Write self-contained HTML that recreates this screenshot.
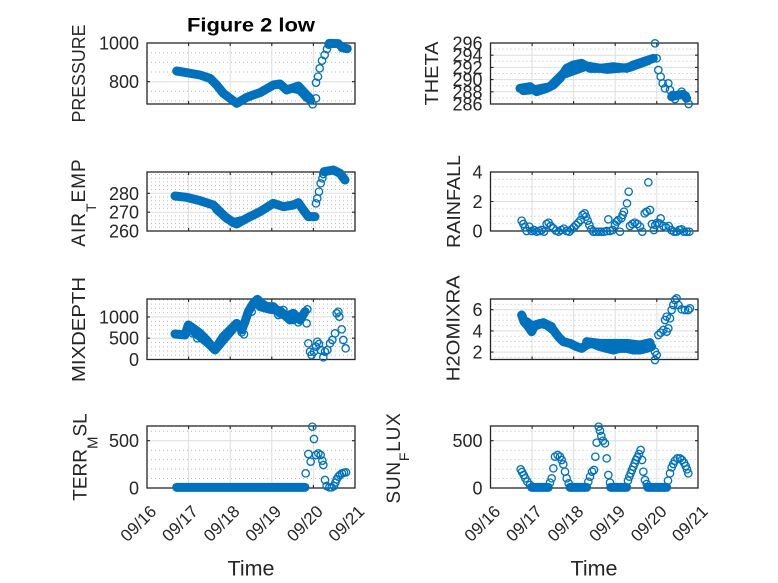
<!DOCTYPE html>
<html><head><meta charset="utf-8"><style>
html,body{margin:0;padding:0;background:#fff}
svg{display:block}
text{font-family:"Liberation Sans",Arial,sans-serif;fill:#262626}
.t{font-size:18px}
.xt{font-size:17px}
.yl{font-size:18px}
.mj{stroke:#dedede;stroke-width:1;fill:none}
.mn{stroke:#bcbcbc;stroke-width:1;stroke-dasharray:1 3;fill:none}
.bx{fill:none;stroke:#262626;stroke-width:1.3}
.tk{stroke:#262626;stroke-width:1.1;fill:none}
.d circle{fill:none;stroke:#0072BD;stroke-width:4}
.d polyline{fill:none;stroke:#0072BD;stroke-width:27;stroke-linecap:round;stroke-linejoin:round}
</style></head><body>
<svg xmlns="http://www.w3.org/2000/svg" width="778" height="583" viewBox="0 0 778 583">
<rect width="778" height="583" fill="#fff"/>

<!-- ===== GRIDS ===== -->
<path class="mn" d="M147 52.7H355M147 62.4H355M147 72H355M147 91.4H355M147 101H355"/>
<path class="mj" d="M147 81.7H355M188.6 43V104M230.2 43V104M271.8 43V104M313.4 43V104"/>
<path class="mn" d="M490.5 97.9H698M490.5 85.7H698M490.5 73.5H698M490.5 61.3H698M490.5 49.1H698"/>
<path class="mj" d="M490.5 91.8H698M490.5 79.6H698M490.5 67.4H698M490.5 55.2H698M532.1 43V104M573.6 43V104M615.2 43V104M656.8 43V104"/>
<path class="mn" d="M147 227.2H355M147 223.5H355M147 219.7H355M147 215.9H355M147 208.4H355M147 204.6H355M147 200.8H355M147 197.1H355M147 189.5H355M147 185.8H355M147 182H355M147 178.2H355M147 174.5H355"/>
<path class="mj" d="M147 212.2H355M147 193.3H355M188.6 172V231M230.2 172V231M271.8 172V231M313.4 172V231"/>
<path class="mn" d="M490.5 223.6H698M490.5 216.25H698M490.5 208.9H698M490.5 194.1H698M490.5 186.75H698M490.5 179.4H698"/>
<path class="mj" d="M490.5 201.5H698M532.1 172V231M573.6 172V231M615.2 172V231M656.8 172V231"/>
<path class="mn" d="M147 355.2H355M147 351H355M147 346.7H355M147 342.5H355M147 333.9H355M147 329.7H355M147 325.4H355M147 321.2H355M147 312.6H355M147 308.4H355M147 304.1H355M147 299.9H355"/>
<path class="mj" d="M147 338.2H355M147 316.9H355M188.6 299V359.5M230.2 299V359.5M271.8 299V359.5M313.4 299V359.5"/>
<path class="mn" d="M490.5 357.4H698M490.5 346.8H698M490.5 341.5H698M490.5 336.2H698M490.5 325.6H698M490.5 320.3H698M490.5 315H698M490.5 304.4H698"/>
<path class="mj" d="M490.5 352.1H698M490.5 330.9H698M490.5 309.7H698M532.1 299V359.5M573.6 299V359.5M615.2 299V359.5M656.8 299V359.5"/>
<path class="mn" d="M147 478.5H355M147 469.1H355M147 459.6H355M147 450.2H355M147 431.2H355"/>
<path class="mj" d="M147 440.7H355M188.6 426V488M230.2 426V488M271.8 426V488M313.4 426V488"/>
<path class="mn" d="M490.5 478.5H698M490.5 469.1H698M490.5 459.6H698M490.5 450.2H698M490.5 431.2H698"/>
<path class="mj" d="M490.5 440.7H698M532.1 426V488M573.6 426V488M615.2 426V488M656.8 426V488"/>

<!-- ===== BOXES & TICKS ===== -->
<rect class="bx" x="147" y="43" width="208" height="61"/>
<rect class="bx" x="490.5" y="43" width="207.5" height="61"/>
<rect class="bx" x="147" y="172" width="208" height="59"/>
<rect class="bx" x="490.5" y="172" width="207.5" height="59"/>
<rect class="bx" x="147" y="299" width="208" height="60.5"/>
<rect class="bx" x="490.5" y="299" width="207.5" height="60.5"/>
<rect class="bx" x="147" y="426" width="208" height="62"/>
<rect class="bx" x="490.5" y="426" width="207.5" height="62"/>

<path class="tk" d="
M188.6 104v-3M230.2 104v-3M271.8 104v-3M313.4 104v-3M188.6 43v3M230.2 43v3M271.8 43v3M313.4 43v3
M188.6 231v-3M230.2 231v-3M271.8 231v-3M313.4 231v-3M188.6 172v3M230.2 172v3M271.8 172v3M313.4 172v3
M188.6 359.5v-3M230.2 359.5v-3M271.8 359.5v-3M313.4 359.5v-3M188.6 299v3M230.2 299v3M271.8 299v3M313.4 299v3
M188.6 488v-3M230.2 488v-3M271.8 488v-3M313.4 488v-3M188.6 426v3M230.2 426v3M271.8 426v3M313.4 426v3
M532.1 104v-3M573.6 104v-3M615.2 104v-3M656.8 104v-3M532.1 43v3M573.6 43v3M615.2 43v3M656.8 43v3
M532.1 231v-3M573.6 231v-3M615.2 231v-3M656.8 231v-3M532.1 172v3M573.6 172v3M615.2 172v3M656.8 172v3
M532.1 359.5v-3M573.6 359.5v-3M615.2 359.5v-3M656.8 359.5v-3M532.1 299v3M573.6 299v3M615.2 299v3M656.8 299v3
M532.1 488v-3M573.6 488v-3M615.2 488v-3M656.8 488v-3M532.1 426v3M573.6 426v3M615.2 426v3M656.8 426v3
M147 81.7h3M355 81.7h-3
M490.5 91.8h3M490.5 79.6h3M490.5 67.4h3M490.5 55.2h3M698 91.8h-3M698 79.6h-3M698 67.4h-3M698 55.2h-3
M147 212.2h3M147 193.3h3M355 212.2h-3M355 193.3h-3
M490.5 201.5h3M698 201.5h-3
M147 338.2h3M147 316.9h3M355 338.2h-3M355 316.9h-3
M490.5 352.1h3M490.5 330.9h3M490.5 309.7h3M698 352.1h-3M698 330.9h-3M698 309.7h-3
M147 440.7h3M355 440.7h-3M490.5 440.7h3M698 440.7h-3"/>

<!-- ===== Y TICK LABELS ===== -->
<g class="t" text-anchor="end">
<text x="139" y="49.5">1000</text><text x="139" y="88.2">800</text>
<text x="482.5" y="110.5">286</text><text x="482.5" y="98.3">288</text><text x="482.5" y="86.1">290</text><text x="482.5" y="73.9">292</text><text x="482.5" y="61.7">294</text><text x="482.5" y="49.5">296</text>
<text x="139" y="237.5">260</text><text x="139" y="218.7">270</text><text x="139" y="199.8">280</text>
<text x="482.5" y="237.5">0</text><text x="482.5" y="208">2</text><text x="482.5" y="178.5">4</text>
<text x="139" y="366">0</text><text x="139" y="344.7">500</text><text x="139" y="323.4">1000</text>
<text x="482.5" y="358.6">2</text><text x="482.5" y="337.4">4</text><text x="482.5" y="316.2">6</text>
<text x="139" y="494.5">0</text><text x="139" y="447.2">500</text>
<text x="482.5" y="494.5">0</text><text x="482.5" y="447.2">500</text>
</g>

<!-- ===== X TICK LABELS ===== -->
<g class="xt" text-anchor="end">
<text transform="translate(157.5,512.5) rotate(-45)">09/16</text>
<text transform="translate(199.1,512.5) rotate(-45)">09/17</text>
<text transform="translate(240.7,512.5) rotate(-45)">09/18</text>
<text transform="translate(282.3,512.5) rotate(-45)">09/19</text>
<text transform="translate(323.9,512.5) rotate(-45)">09/20</text>
<text transform="translate(365.5,512.5) rotate(-45)">09/21</text>
<text transform="translate(501.5,512.5) rotate(-45)">09/16</text>
<text transform="translate(543.1,512.5) rotate(-45)">09/17</text>
<text transform="translate(584.6,512.5) rotate(-45)">09/18</text>
<text transform="translate(626.2,512.5) rotate(-45)">09/19</text>
<text transform="translate(667.8,512.5) rotate(-45)">09/20</text>
<text transform="translate(709,512.5) rotate(-45)">09/21</text>
</g>

<!-- ===== AXIS LABELS ===== -->
<text x="251" y="575.5" font-size="21" text-anchor="middle" textLength="47" lengthAdjust="spacingAndGlyphs">Time</text>
<text x="594" y="575.5" font-size="21" text-anchor="middle" textLength="47" lengthAdjust="spacingAndGlyphs">Time</text>
<text x="251" y="31.5" font-size="19" font-weight="bold" text-anchor="middle" textLength="128" lengthAdjust="spacingAndGlyphs" style="fill:#000">Figure 2 low</text>

<g class="yl" text-anchor="middle">
<text transform="translate(85,73.5) rotate(-90)" textLength="98" lengthAdjust="spacingAndGlyphs">PRESSURE</text>
<text transform="translate(438,73.5) rotate(-90)" textLength="64" lengthAdjust="spacingAndGlyphs">THETA</text>
<text transform="translate(85,202.5) rotate(-90)" style="font-size:19px;letter-spacing:1px">AIR<tspan dy="11" font-size="14">T</tspan><tspan dy="-11">EMP</tspan></text>
<text transform="translate(460,201.5) rotate(-90)" textLength="93" lengthAdjust="spacingAndGlyphs">RAINFALL</text>
<text transform="translate(85,329.5) rotate(-90)" textLength="105" lengthAdjust="spacingAndGlyphs">MIXDEPTH</text>
<text transform="translate(459.5,328.3) rotate(-90)" textLength="106" lengthAdjust="spacingAndGlyphs">H2OMIXRA</text>
<text transform="translate(86.5,457) rotate(-90)" style="font-size:19px">TERR<tspan dy="11" font-size="15">M</tspan><tspan dy="-11">SL</tspan></text>
<text transform="translate(400,458) rotate(-90)" style="font-size:19px;letter-spacing:0.8px">SUN<tspan dy="9" font-size="14">F</tspan><tspan dy="-9">LUX</tspan></text>
</g>

<!-- ===== DATA ===== -->
<!-- A1 PRESSURE -->
<g class="d" transform="translate(60,10) scale(0.33333)">
<polyline points="350,183 380,188 420,195 450,205 470,225 490,250 510,265 530,280 560,262 600,248 640,225 660,222 680,240 715,228 735,250 750,265"/>
<polyline points="700,235 720,240 740,262 752,270"/>
<polyline points="808,100 835,101"/>
<polyline points="846,113 862,116"/>
<circle r="11" cx="758" cy="283"/><circle r="11" cx="768" cy="265"/><circle r="11" cx="768" cy="218"/><circle r="11" cx="774" cy="200"/><circle r="11" cx="779" cy="175"/><circle r="11" cx="786" cy="152"/><circle r="11" cx="794" cy="135"/><circle r="11" cx="801" cy="117"/><circle r="11" cx="806" cy="104"/><circle r="11" cx="840" cy="106"/>
</g>

<!-- A2 THETA -->
<g class="d" transform="translate(400,30) scale(0.33333)">
<polyline points="360,175 390,170 410,185 440,175 460,165 480,145 500,115 520,105 545,100 570,115 600,115 640,110 680,115 700,105 730,95 760,85"/>
<polyline points="370,182 410,178 450,170 485,135 560,108 620,118 690,112 745,92"/>
<polyline points="815,200 835,195 850,193 860,205"/>
<circle r="11" cx="765" cy="40"/><circle r="11" cx="770" cy="85"/><circle r="11" cx="775" cy="120"/><circle r="11" cx="782" cy="140"/><circle r="11" cx="788" cy="160"/><circle r="11" cx="795" cy="175"/><circle r="11" cx="805" cy="160"/><circle r="11" cx="810" cy="180"/><circle r="11" cx="818" cy="195"/><circle r="11" cx="825" cy="207"/><circle r="11" cx="845" cy="185"/><circle r="11" cx="857" cy="197"/><circle r="11" cx="866" cy="222"/>
</g>

<!-- A3 AIR_TEMP -->
<g class="d" transform="translate(60,150) scale(0.33333)">
<polyline points="345,138 380,142 420,152 460,165 480,185 500,205 530,222 560,205 600,185 640,160 670,170 700,165 715,158 730,180 745,200 765,200"/>
<polyline points="470,178 495,200 520,218 545,212"/>
<polyline points="792,65 820,60 840,70 855,90"/>
<circle r="11" cx="768" cy="160"/><circle r="11" cx="772" cy="145"/><circle r="11" cx="777" cy="125"/><circle r="11" cx="782" cy="100"/><circle r="11" cx="787" cy="85"/><circle r="11" cx="790" cy="72"/>
</g>

<!-- A4 RAINFALL -->
<g class="d" transform="translate(400,150) scale(0.33333)">
<circle r="11" cx="365" cy="212"/><circle r="11" cx="370" cy="222"/><circle r="11" cx="375" cy="232"/><circle r="11" cx="380" cy="243"/><circle r="11" cx="388" cy="230"/><circle r="11" cx="395" cy="243"/><circle r="11" cx="402" cy="240"/><circle r="11" cx="410" cy="245"/><circle r="11" cx="418" cy="243"/><circle r="11" cx="425" cy="240"/><circle r="11" cx="432" cy="245"/><circle r="11" cx="440" cy="222"/><circle r="11" cx="446" cy="218"/><circle r="11" cx="452" cy="228"/><circle r="11" cx="460" cy="235"/><circle r="11" cx="468" cy="242"/><circle r="11" cx="476" cy="245"/><circle r="11" cx="484" cy="240"/><circle r="11" cx="492" cy="236"/><circle r="11" cx="500" cy="243"/><circle r="11" cx="508" cy="245"/><circle r="11" cx="515" cy="238"/><circle r="11" cx="522" cy="232"/><circle r="11" cx="528" cy="225"/><circle r="11" cx="535" cy="218"/><circle r="11" cx="542" cy="210"/><circle r="11" cx="548" cy="195"/><circle r="11" cx="554" cy="190"/><circle r="11" cx="558" cy="200"/><circle r="11" cx="563" cy="212"/><circle r="11" cx="568" cy="225"/><circle r="11" cx="574" cy="238"/><circle r="11" cx="580" cy="245"/><circle r="11" cx="588" cy="245"/><circle r="11" cx="596" cy="245"/><circle r="11" cx="604" cy="245"/><circle r="11" cx="612" cy="245"/><circle r="11" cx="620" cy="243"/><circle r="11" cx="625" cy="208"/><circle r="11" cx="630" cy="243"/><circle r="11" cx="638" cy="240"/><circle r="11" cx="645" cy="225"/><circle r="11" cx="650" cy="215"/><circle r="11" cx="655" cy="210"/><circle r="11" cx="660" cy="245"/><circle r="11" cx="664" cy="205"/><circle r="11" cx="668" cy="195"/><circle r="11" cx="672" cy="185"/><circle r="11" cx="681" cy="160"/><circle r="11" cx="686" cy="125"/><circle r="11" cx="690" cy="228"/><circle r="11" cx="697" cy="222"/><circle r="11" cx="704" cy="218"/><circle r="11" cx="712" cy="222"/><circle r="11" cx="720" cy="230"/><circle r="11" cx="727" cy="245"/><circle r="11" cx="734" cy="190"/><circle r="11" cx="740" cy="185"/><circle r="11" cx="745" cy="97"/><circle r="11" cx="750" cy="180"/><circle r="11" cx="756" cy="222"/><circle r="11" cx="762" cy="240"/><circle r="11" cx="766" cy="225"/><circle r="11" cx="772" cy="218"/><circle r="11" cx="778" cy="220"/><circle r="11" cx="782" cy="205"/><circle r="11" cx="790" cy="228"/><circle r="11" cx="798" cy="232"/><circle r="11" cx="806" cy="228"/><circle r="11" cx="814" cy="240"/><circle r="11" cx="822" cy="245"/><circle r="11" cx="830" cy="245"/><circle r="11" cx="838" cy="240"/><circle r="11" cx="845" cy="238"/><circle r="11" cx="852" cy="245"/><circle r="11" cx="860" cy="245"/><circle r="11" cx="868" cy="245"/>
</g>

<!-- A5 MIXDEPTH -->
<g class="d" transform="translate(60,280) scale(0.33333)">
<polyline points="345,162 375,165 385,135 400,145 420,160 440,180 460,205 470,200 490,170 510,150 530,130 545,150 555,125 565,95 580,70 592,58 605,70 620,80 640,80 660,100 680,108 700,100 720,120 735,95"/>
<polyline points="395,150 420,170 445,190 465,210 490,180 520,145"/>
<polyline points="600,80 630,88 660,92 690,120 710,112"/>
<circle r="11" cx="545" cy="157"/><circle r="11" cx="552" cy="163"/><circle r="11" cx="740" cy="130"/><circle r="11" cx="742" cy="88"/><circle r="11" cx="715" cy="127"/><circle r="11" cx="690" cy="117"/><circle r="11" cx="655" cy="105"/><circle r="11" cx="412" cy="175"/><circle r="11" cx="398" cy="160"/><circle r="11" cx="575" cy="95"/><circle r="11" cx="670" cy="90"/><circle r="11" cx="700" cy="120"/>
<circle r="11" cx="745" cy="190"/><circle r="11" cx="750" cy="215"/><circle r="11" cx="755" cy="225"/><circle r="11" cx="762" cy="215"/><circle r="11" cx="768" cy="200"/><circle r="11" cx="772" cy="185"/><circle r="11" cx="777" cy="192"/><circle r="11" cx="782" cy="210"/><circle r="11" cx="790" cy="232"/><circle r="11" cx="795" cy="215"/><circle r="11" cx="802" cy="210"/><circle r="11" cx="810" cy="190"/><circle r="11" cx="817" cy="180"/><circle r="11" cx="825" cy="160"/><circle r="11" cx="830" cy="100"/><circle r="11" cx="835" cy="95"/><circle r="11" cx="838" cy="110"/><circle r="11" cx="845" cy="148"/><circle r="11" cx="850" cy="180"/><circle r="11" cx="857" cy="205"/>
</g>

<!-- A6 H2OMIXRA -->
<g class="d" transform="translate(400,280) scale(0.33333)">
<polyline points="365,105 372,125 385,140 395,155 405,135 420,130 440,135 460,150 475,170 490,185 510,190 530,200 545,205 560,195 575,190 600,200 620,205 640,210 660,205 680,205 700,210 720,210 740,205 755,200"/>
<polyline points="560,185 600,190 640,190 680,190 720,195 750,188"/>
<polyline points="380,125 400,140 430,128 455,140"/>
<circle r="11" cx="765" cy="215"/><circle r="11" cx="770" cy="225"/><circle r="11" cx="765" cy="240"/><circle r="11" cx="775" cy="165"/><circle r="11" cx="782" cy="158"/><circle r="11" cx="790" cy="150"/><circle r="11" cx="800" cy="155"/><circle r="11" cx="805" cy="145"/><circle r="11" cx="795" cy="120"/><circle r="11" cx="800" cy="110"/><circle r="11" cx="810" cy="115"/><circle r="11" cx="815" cy="90"/><circle r="11" cx="820" cy="75"/><circle r="11" cx="825" cy="60"/><circle r="11" cx="830" cy="55"/><circle r="11" cx="835" cy="75"/><circle r="11" cx="845" cy="88"/><circle r="11" cx="855" cy="90"/><circle r="11" cx="865" cy="90"/><circle r="11" cx="870" cy="85"/>
</g>

<!-- A7 TERR_MSL -->
<g class="d" transform="translate(60,410) scale(0.33333)">
<polyline points="350,232 735,232"/>
<circle r="11" cx="737" cy="190"/><circle r="11" cx="745" cy="132"/><circle r="11" cx="752" cy="155"/><circle r="11" cx="757" cy="50"/><circle r="11" cx="762" cy="87"/><circle r="11" cx="768" cy="135"/><circle r="11" cx="775" cy="130"/><circle r="11" cx="782" cy="135"/><circle r="11" cx="787" cy="152"/><circle r="11" cx="790" cy="165"/><circle r="11" cx="795" cy="210"/><circle r="11" cx="800" cy="228"/><circle r="11" cx="808" cy="232"/><circle r="11" cx="815" cy="232"/><circle r="11" cx="822" cy="228"/><circle r="11" cx="826" cy="218"/><circle r="11" cx="830" cy="208"/><circle r="11" cx="835" cy="200"/><circle r="11" cx="840" cy="195"/><circle r="11" cx="846" cy="190"/><circle r="11" cx="852" cy="188"/><circle r="11" cx="858" cy="187"/>
</g>

<!-- A8 SUN_FLUX -->
<g class="d" transform="translate(380,410) scale(0.33333)">
<polyline points="455,232 505,232"/>
<polyline points="570,232 620,232"/>
<polyline points="692,232 740,232"/>
<polyline points="803,232 860,232"/>
<circle r="11" cx="422" cy="178"/><circle r="11" cx="426" cy="186"/><circle r="11" cx="431" cy="195"/><circle r="11" cx="436" cy="205"/><circle r="11" cx="442" cy="215"/><circle r="11" cx="450" cy="225"/>
<circle r="11" cx="510" cy="218"/><circle r="11" cx="515" cy="205"/><circle r="11" cx="520" cy="175"/><circle r="11" cx="525" cy="140"/><circle r="11" cx="533" cy="135"/><circle r="11" cx="540" cy="140"/><circle r="11" cx="545" cy="150"/><circle r="11" cx="550" cy="163"/><circle r="11" cx="555" cy="185"/><circle r="11" cx="560" cy="205"/><circle r="11" cx="566" cy="220"/>
<circle r="11" cx="625" cy="215"/><circle r="11" cx="630" cy="200"/><circle r="11" cx="636" cy="185"/><circle r="11" cx="642" cy="180"/><circle r="11" cx="646" cy="140"/><circle r="11" cx="650" cy="98"/><circle r="11" cx="656" cy="50"/><circle r="11" cx="660" cy="62"/><circle r="11" cx="664" cy="78"/><circle r="11" cx="669" cy="92"/><circle r="11" cx="675" cy="100"/><circle r="11" cx="680" cy="145"/><circle r="11" cx="685" cy="195"/><circle r="11" cx="690" cy="218"/>
<circle r="11" cx="744" cy="212"/><circle r="11" cx="748" cy="200"/><circle r="11" cx="752" cy="190"/><circle r="11" cx="756" cy="180"/><circle r="11" cx="760" cy="170"/><circle r="11" cx="764" cy="160"/><circle r="11" cx="768" cy="150"/><circle r="11" cx="772" cy="142"/><circle r="11" cx="777" cy="132"/><circle r="11" cx="782" cy="120"/><circle r="11" cx="786" cy="150"/><circle r="11" cx="790" cy="185"/><circle r="11" cx="795" cy="210"/><circle r="11" cx="800" cy="222"/>
<circle r="11" cx="864" cy="212"/><circle r="11" cx="870" cy="190"/><circle r="11" cx="875" cy="172"/><circle r="11" cx="880" cy="162"/><circle r="11" cx="885" cy="152"/><circle r="11" cx="892" cy="145"/><circle r="11" cx="900" cy="145"/><circle r="11" cx="906" cy="150"/><circle r="11" cx="912" cy="158"/><circle r="11" cx="917" cy="168"/><circle r="11" cx="921" cy="178"/><circle r="11" cx="925" cy="190"/>
</g>
</svg>
</body></html>
